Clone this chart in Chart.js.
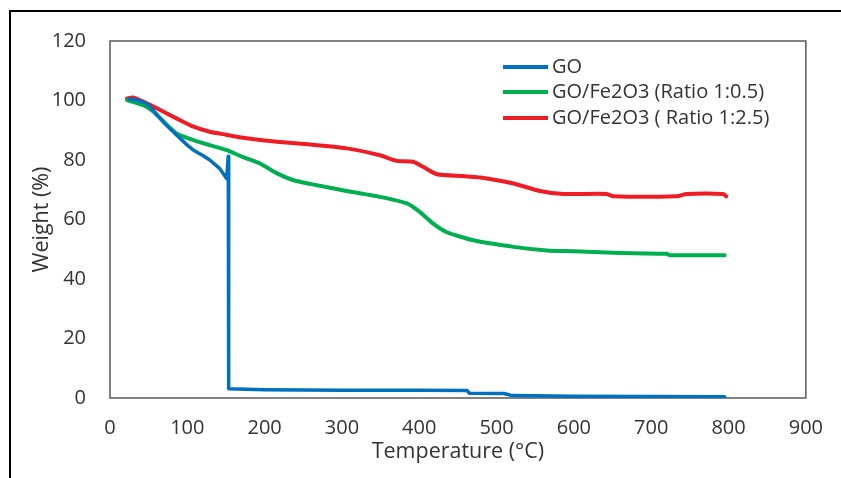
<!DOCTYPE html>
<html>
<head>
<meta charset="utf-8">
<script src="https://cdn.jsdelivr.net/npm/chart.js@4/dist/chart.umd.min.js"></script>
<style>
  html, body { margin: 0; padding: 0; background: #fff; }
  canvas { display: block; }
</style>
</head>
<body>
<canvas id="tga" width="841" height="478"></canvas>
<script>
// values
const goTemp   = [25, 40, 50, 60, 70, 86, 100, 108, 120, 129, 142, 150.8, 153, 153.5, 200, 300, 400, 462, 465, 510, 520, 600, 700, 795];
const goWeight = [100.5, 99.8, 98.5, 95.5, 92.5, 88.4, 85, 83.3, 81.5, 80, 77.1, 73.8, 81.3, 3.1, 2.8, 2.6, 2.6, 2.5, 1.6, 1.5, 0.8, 0.6, 0.5, 0.4];

const lowTemp   = [22, 43, 55, 65, 86, 108, 129, 151, 172, 194, 216, 237, 260, 306, 349, 384, 401, 418, 435, 470, 522, 565, 600, 651, 720, 724, 795];
const lowWeight = [100.1, 98.4, 96.5, 94, 88.9, 86.7, 85, 83.3, 81, 78.8, 75.5, 73.2, 71.9, 69.6, 67.6, 65.4, 62.5, 58.6, 55.8, 53, 50.8, 49.6, 49.3, 48.8, 48.5, 48, 48];

const highTemp   = [22, 30, 43, 65, 86, 108, 129, 150, 172, 216, 259, 306, 349, 371, 392, 405, 423, 457, 479, 522, 556, 587, 642, 651, 733, 746, 793, 797];
const highWeight = [100.7, 101, 99.6, 96.8, 94, 91.2, 89.5, 88.5, 87.5, 86.1, 85.2, 83.9, 81.6, 79.7, 79.4, 77.7, 75.2, 74.6, 74.1, 72.1, 69.6, 68.6, 68.6, 67.8, 67.8, 68.6, 68.6, 67.8];

const seriesNames = ['GO', 'GO/Fe2O3 (Ratio 1:0.5)', 'GO/Fe2O3 ( Ratio 1:2.5)'];
const xTicks = [0, 100, 200, 300, 400, 500, 600, 700, 800, 900];
const yTicks = [0, 20, 40, 60, 80, 100, 120];

const FONT = "'Open Sans', sans-serif";
const TXT = '#333333';

function pts(xs, ys) { return xs.map((x, i) => ({ x: x, y: ys[i] })); }

// outer frame + plot box
const framePlugin = {
  id: 'frame',
  beforeDraw(chart) {
    const ctx = chart.ctx;
    ctx.save();
    ctx.fillStyle = '#000';
    ctx.fillRect(9, 10, 2, 478);
    ctx.fillRect(9, 10, 841, 2);
    ctx.restore();
  },
  beforeDatasetsDraw(chart) {
    const a = chart.chartArea, ctx = chart.ctx;
    ctx.save();
    ctx.strokeStyle = '#595959';
    ctx.lineWidth = 1.5;
    ctx.strokeRect(a.left, a.top, a.right - a.left, a.bottom - a.top);
    ctx.restore();
  }
};

// legend inside the plot, top right
const legendPlugin = {
  id: 'innerLegend',
  afterDatasetsDraw(chart) {
    const ctx = chart.ctx;
    const rows = [67, 92, 118];
    ctx.save();
    ctx.font = '20px ' + FONT;
    ctx.textBaseline = 'middle';
    chart.data.datasets.forEach((ds, i) => {
      ctx.strokeStyle = ds.borderColor;
      ctx.lineWidth = 4;
      ctx.beginPath();
      ctx.moveTo(503, rows[i]);
      ctx.lineTo(548, rows[i]);
      ctx.stroke();
      ctx.fillStyle = TXT;
      ctx.fillText(ds.label, 552, rows[i]);
    });
    ctx.restore();
  }
};

new Chart(document.getElementById('tga'), {
  type: 'line',
  data: {
    datasets: [
      { label: seriesNames[0], data: pts(goTemp, goWeight), borderColor: '#0070C0', borderWidth: 3.5, tension: 0 },
      { label: seriesNames[1], data: pts(lowTemp, lowWeight), borderColor: '#00B050', borderWidth: 4 },
      { label: seriesNames[2], data: pts(highTemp, highWeight), borderColor: '#EE1C25', borderWidth: 4 }
    ]
  },
  options: {
    responsive: false,
    animation: false,
    devicePixelRatio: 1,
    layout: { padding: { top: 41, right: 35, left: 0, bottom: 0 } },
    elements: { point: { radius: 0 }, line: { tension: 0.2, borderCapStyle: 'round', borderJoinStyle: 'round' } },
    plugins: { legend: { display: false }, tooltip: { enabled: false } },
    scales: {
      x: {
        type: 'linear',
        min: 0, max: 900,
        afterBuildTicks: s => { s.ticks = xTicks.map(v => ({ value: v })); },
        afterFit: s => { s.height = 80; },
        grid: { display: false, drawTicks: false },
        border: { display: false },
        ticks: { padding: 18, color: TXT, font: { family: FONT, size: 20 } },
        title: { display: true, text: 'Temperature (°C)', color: TXT, padding: { bottom: 13 }, font: { family: FONT, size: 21.5 } }
      },
      y: {
        min: 0, max: 120,
        afterBuildTicks: s => { s.ticks = yTicks.map(v => ({ value: v })); },
        afterFit: s => { s.width = 110; },
        grid: { display: false, drawTicks: false },
        border: { display: false },
        ticks: { padding: 24, color: TXT, font: { family: FONT, size: 20 } },
        title: { display: true, text: 'Weight (%)', color: TXT, padding: { top: 29 }, font: { family: FONT, size: 21.5 } }
      }
    }
  },
  plugins: [framePlugin, legendPlugin]
});
</script>
</body>
</html>
